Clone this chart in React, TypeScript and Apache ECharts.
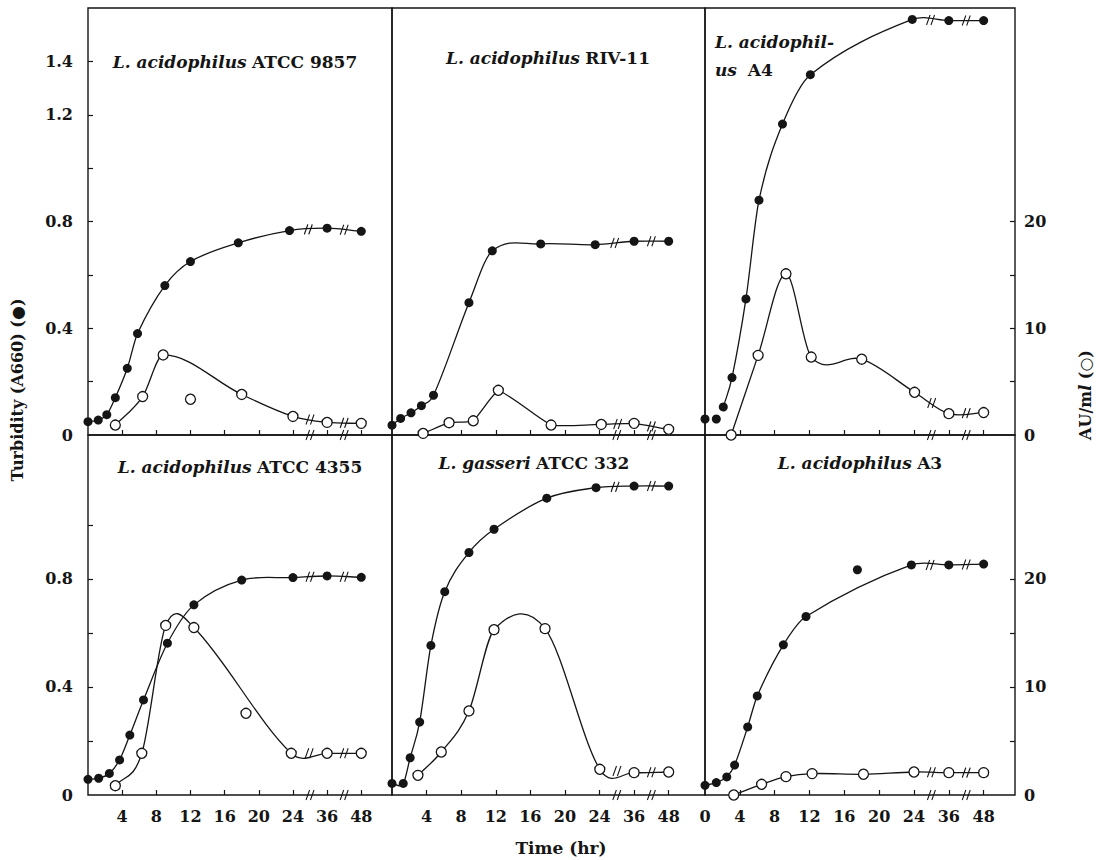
import React, { useEffect, useRef } from "react";
import * as echarts from "echarts";

// ---------- Data (hours, turbidity A660 for ●, AU/ml for ○) ----------
// Panel A: L. acidophilus ATCC 9857
const aFilledHours = [0, 1.2, 2.2, 3.2, 4.6, 5.8, 9, 12, 17.6, 23.6, 36, 48];
const aFilledTurb = [0.05, 0.056, 0.076, 0.14, 0.25, 0.38, 0.56, 0.65, 0.72, 0.766, 0.775, 0.763];
const aOpenHours = [3.2, 6.4, 8.8, 18, 24, 36, 48];
const aOpenAU = [0.93, 3.6, 7.5, 3.8, 1.74, 1.18, 1.09];
const aOpenOutHours = [12];
const aOpenOutAU = [3.35];

// Panel B: L. acidophilus RIV-11
const bFilledHours = [0, 1, 2.2, 3.4, 4.8, 8.9, 11.6, 17.2, 23.5, 36, 48];
const bFilledTurb = [0.037, 0.062, 0.083, 0.11, 0.149, 0.496, 0.69, 0.716, 0.713, 0.726, 0.726];
const bOpenHours = [3.6, 6.6, 9.4, 12.3, 18.4, 24.6, 36, 48];
const bOpenAU = [0.15, 1.15, 1.33, 4.19, 0.93, 0.99, 1.09, 0.53];

// Panel C: L. acidophilus A4
const cLooseHours = [0, 1.3];
const cLooseTurb = [0.06, 0.06];
const cFilledHours = [2.1, 3.1, 4.7, 6.2, 8.9, 12.1, 23.8, 36, 48];
const cFilledTurb = [0.105, 0.215, 0.51, 0.88, 1.165, 1.35, 1.557, 1.553, 1.553];
const cOpenHours = [3, 6.1, 9.3, 12.2, 18, 24.2, 36, 48];
const cOpenAU = [0, 7.46, 15.1, 7.3, 7.1, 4.0, 2.0, 2.1];

// Panel D: L. acidophilus ATCC 4355
const dFilledHours = [0, 1.25, 2.5, 3.7, 4.9, 6.5, 9.3, 12.4, 18, 24, 36, 48];
const dFilledTurb = [0.058, 0.062, 0.08, 0.13, 0.222, 0.352, 0.562, 0.704, 0.796, 0.805, 0.811, 0.806];
const dOpenHours = [3.2, 6.3, 9.1, 12.4, 23.8, 36, 48];
const dOpenAU = [0.86, 3.86, 15.7, 15.5, 3.86, 3.86, 3.86];
const dOpenOutHours = [18.5];
const dOpenOutAU = [7.56];

// Panel E: L. gasseri ATCC 332
const eFilledHours = [0, 1.3, 2.1, 3.2, 4.5, 6.1, 8.9, 11.8, 17.9, 23.6, 36, 48];
const eFilledTurb = [0.043, 0.043, 0.138, 0.27, 0.554, 0.753, 0.898, 0.984, 1.099, 1.138, 1.144, 1.144];
const eOpenHours = [3, 5.7, 8.9, 11.8, 17.7, 24.1, 36, 48];
const eOpenAU = [1.82, 3.98, 7.78, 15.3, 15.4, 2.38, 2.07, 2.13];

// Panel F: L. acidophilus A3
const fFilledHours = [0, 1.3, 2.5, 3.4, 4.9, 6, 9, 11.6, 23.7, 36, 48];
const fFilledTurb = [0.036, 0.046, 0.067, 0.111, 0.252, 0.367, 0.556, 0.661, 0.852, 0.852, 0.855];
const fFilledOutHours = [17.5];
const fFilledOutTurb = [0.834];
const fOpenHours = [3.3, 6.5, 9.3, 12.3, 18.2, 24, 36, 48];
const fOpenAU = [0, 0.99, 1.7, 1.98, 1.92, 2.13, 2.07, 2.07];

// Axis ticks / labels
const xTickHours = [4, 8, 12, 16, 20, 24, 36, 48];
const topTurbTicks = [0.2, 0.4, 0.6, 0.8, 1.0, 1.2, 1.4];
const topTurbLabels = [0, 0.4, 0.8, 1.2, 1.4];
const botTurbTicks = [0.2, 0.4, 0.6, 0.8, 1.0];
const botTurbLabels = [0, 0.4, 0.8];
const auTicks = [5, 10, 15, 20];
const auLabels = [0, 10, 20];
const AU_PER_TURB = 25;

// ---------- helpers ----------
// broken time axis: 0-24 h linear, then 36 h and 48 h each one 4-h step further
const toAxis = (h: number) => (h <= 24 ? h : 24 + (h - 24) / 3);
const fromAxis = (x: number) => (x <= 24 ? x : 24 + (x - 24) * 3);
const pairs = (hs: number[], vs: number[]) => hs.map((h, i) => [toAxis(h), vs[i]]);
const breaksOf = (hs: number[], vs: number[]) => {
  const n = hs.length;
  const out: number[][] = [];
  for (let i = n - 3; i < n - 1; i++) {
    out.push([(toAxis(hs[i]) + toAxis(hs[i + 1])) / 2, (vs[i] + vs[i + 1]) / 2]);
  }
  return out;
};

// smooth cubic Hermite curve through pixel points (monotone in x)
const curvePath = (pts: number[][], tension: number) => {
  const n = pts.length;
  if (n < 2) return "";
  const slopes = pts.map((_, i) => {
    const a = pts[Math.max(0, i - 1)];
    const b = pts[Math.min(n - 1, i + 1)];
    return (b[1] - a[1]) / (b[0] - a[0]);
  });
  let d = `M${pts[0][0]},${pts[0][1]}`;
  for (let i = 0; i < n - 1; i++) {
    const [x0, y0] = pts[i];
    const [x1, y1] = pts[i + 1];
    const seg = (y1 - y0) / (x1 - x0);
    const m0 = tension * slopes[i] + (1 - tension) * seg;
    const m1 = tension * slopes[i + 1] + (1 - tension) * seg;
    const dx = (x1 - x0) / 3;
    d += ` C${x0 + dx},${y0 + m0 * dx} ${x1 - dx},${y1 - m1 * dx} ${x1},${y1}`;
  }
  return d;
};

const SERIF = '"DejaVu Serif", "Liberation Serif", serif';
const INK = "#151515";

const colLeft = [88, 392, 705];
const colWidth = [304, 313, 310];
const rowTop = [8, 435];
const rowHeight = [427, 360];
const xMax = [35.6, 36.2, 35.6];
const turbMax = [1.6, 1.333];

type Panel = {
  filledH: number[];
  filledV: number[];
  openH: number[];
  openV: number[];
  looseH?: number[];
  looseV?: number[];
  openOutH?: number[];
  openOutV?: number[];
  tensionOpen?: number;
};

const panels: Panel[] = [
  { filledH: aFilledHours, filledV: aFilledTurb, openH: aOpenHours, openV: aOpenAU, openOutH: aOpenOutHours, openOutV: aOpenOutAU },
  { filledH: bFilledHours, filledV: bFilledTurb, openH: bOpenHours, openV: bOpenAU, tensionOpen: 0.3 },
  { filledH: cFilledHours, filledV: cFilledTurb, openH: cOpenHours, openV: cOpenAU, looseH: cLooseHours, looseV: cLooseTurb },
  { filledH: dFilledHours, filledV: dFilledTurb, openH: dOpenHours, openV: dOpenAU, openOutH: dOpenOutHours, openOutV: dOpenOutAU },
  { filledH: eFilledHours, filledV: eFilledTurb, openH: eOpenHours, openV: eOpenAU },
  { filledH: fFilledHours, filledV: fFilledTurb, openH: fOpenHours, openV: fOpenAU, looseH: fFilledOutHours, looseV: fFilledOutTurb },
];

const BREAK_SYMBOL = "path://M0,12L4,0M5,12L9,0";

function curveSeries(idx: number, yIdx: number, data: number[][], tension: number) {
  return {
    type: "custom",
    xAxisIndex: idx,
    yAxisIndex: yIdx,
    data,
    encode: { x: 0, y: 1 },
    z: 2,
    silent: true,
    renderItem: (params: any, api: any) => {
      if (params.dataIndex !== 0) return null;
      const pts = data.map((p) => api.coord(p));
      return {
        type: "path",
        shape: { pathData: curvePath(pts, tension) },
        style: { fill: "none", stroke: INK, lineWidth: 1.3 },
      };
    },
  };
}

function buildOption() {
  const grid: any[] = [];
  const xAxis: any[] = [];
  const yAxis: any[] = [];
  const series: any[] = [];
  const labelStyle = { fontFamily: SERIF, fontWeight: "bold", fontSize: 16, color: INK };
  const xTicks = xTickHours.map(toAxis);
  const axisBreaks = [0, 1].map((i) => (xTicks[xTicks.length - 3 + i] + xTicks[xTicks.length - 2 + i]) / 2);
  const filledMark = { color: INK, opacity: 1 };
  const openMark = { color: "#fff", borderColor: INK, borderWidth: 1.3, opacity: 1 };
  const breakStyle = { color: "rgba(0,0,0,0)", borderColor: INK, borderWidth: 1.2, opacity: 1 };

  for (let r = 0; r < 2; r++) {
    for (let c = 0; c < 3; c++) {
      const idx = r * 3 + c;
      const p = panels[idx];
      grid.push({
        left: colLeft[c],
        top: rowTop[r],
        width: colWidth[c],
        height: rowHeight[r],
        show: true,
        borderColor: INK,
        borderWidth: 1.4,
        backgroundColor: "transparent",
      });
      xAxis.push({
        type: "value",
        gridIndex: idx,
        min: 0,
        max: xMax[c],
        axisLine: { show: false },
        splitLine: { show: false },
        axisTick: { show: true, inside: true, length: 5, lineStyle: { color: INK, width: 1.2 }, customValues: xTicks },
        axisLabel: {
          show: r === 1,
          customValues: c === 2 ? [0, ...xTicks] : xTicks,
          formatter: (v: number) => String(Math.round(fromAxis(v))),
          margin: 13,
          ...labelStyle,
        },
      });
      yAxis.push({
        type: "value",
        gridIndex: idx,
        min: 0,
        max: turbMax[r],
        position: "left",
        axisLine: { show: false },
        splitLine: { show: false },
        axisTick: {
          show: c === 0,
          inside: true,
          length: 5,
          lineStyle: { color: INK, width: 1.2 },
          customValues: r === 0 ? topTurbTicks : botTurbTicks,
        },
        axisLabel: {
          show: c === 0,
          customValues: r === 0 ? topTurbLabels : botTurbLabels,
          formatter: (v: number) => (v === 0 ? "0" : v.toFixed(1)),
          margin: 15,
          ...labelStyle,
        },
      });
      yAxis.push({
        type: "value",
        gridIndex: idx,
        min: 0,
        max: turbMax[r] * AU_PER_TURB,
        position: "right",
        show: c === 2,
        axisLine: { show: false },
        splitLine: { show: false },
        axisTick: { show: true, inside: true, length: 5, lineStyle: { color: INK, width: 1.2 }, customValues: auTicks },
        axisLabel: { customValues: auLabels, formatter: (v: number) => String(v), margin: 9, ...labelStyle },
      });

      const filledData = pairs(p.filledH, p.filledV);
      const openData = pairs(p.openH, p.openV);

      // curves
      series.push(curveSeries(idx, idx * 2, filledData, 1));
      series.push(curveSeries(idx, idx * 2 + 1, openData, p.tensionOpen ?? 1));

      // filled circles: turbidity
      series.push({
        type: "scatter",
        xAxisIndex: idx,
        yAxisIndex: idx * 2,
        data: p.looseH && p.looseV ? [...filledData, ...pairs(p.looseH, p.looseV)] : filledData,
        symbol: "circle",
        symbolSize: 9,
        itemStyle: filledMark,
        z: 3,
      });
      // open circles: AU/ml
      series.push({
        type: "scatter",
        xAxisIndex: idx,
        yAxisIndex: idx * 2 + 1,
        data: p.openOutH && p.openOutV ? [...openData, ...pairs(p.openOutH, p.openOutV)] : openData,
        symbol: "circle",
        symbolSize: 10,
        itemStyle: openMark,
        z: 4,
      });
      // break marks "//" on axis and on the curves
      series.push({
        type: "scatter",
        xAxisIndex: idx,
        yAxisIndex: idx * 2,
        data: [...axisBreaks.map((x) => [x, 0]), ...breaksOf(p.filledH, p.filledV)],
        symbol: BREAK_SYMBOL,
        symbolSize: [8, 10],
        itemStyle: breakStyle,
        z: 5,
      });
      series.push({
        type: "scatter",
        xAxisIndex: idx,
        yAxisIndex: idx * 2 + 1,
        data: breaksOf(p.openH, p.openV),
        symbol: BREAK_SYMBOL,
        symbolSize: [8, 10],
        itemStyle: breakStyle,
        z: 5,
      });
    }
  }

  const rich = {
    i: { fontFamily: SERIF, fontStyle: "italic", fontWeight: "bold", fontSize: 17, fill: INK },
    b: { fontFamily: SERIF, fontWeight: "bold", fontSize: 17, fill: INK },
  };
  const title = (x: number, y: number, text: string, align = "center") => ({
    type: "text",
    x,
    y,
    z: 10,
    style: { text, rich, align, verticalAlign: "middle", fontFamily: SERIF, fontSize: 17, fill: INK },
  });

  const graphic = [
    title(235, 62, "{i|L. acidophilus} {b|ATCC 9857}"),
    title(548, 58, "{i|L. acidophilus} {b|RIV-11}"),
    title(715, 42, "{i|L. acidophil-}", "left"),
    title(715, 70, "{i|us}  {b|A4}", "left"),
    title(240, 467, "{i|L. acidophilus} {b|ATCC 4355}"),
    title(534, 463, "{i|L. gasseri} {b|ATCC 332}"),
    title(860, 463, "{i|L. acidophilus} {b|A3}"),
    {
      type: "text",
      x: 17,
      y: 390,
      rotation: Math.PI / 2,
      style: {
        text: "Turbidity (A660) (●)",
        align: "center",
        verticalAlign: "middle",
        fontFamily: SERIF,
        fontWeight: "bold",
        fontSize: 16,
        fill: INK,
      },
    },
    {
      type: "text",
      x: 1085,
      y: 395,
      rotation: Math.PI / 2,
      style: {
        text: "{a|AU/m}{l|l}{a| (○)}",
        rich: {
          a: { fontFamily: SERIF, fontWeight: "bold", fontSize: 16, fill: INK },
          l: { fontFamily: SERIF, fontWeight: "bold", fontStyle: "italic", fontSize: 16, fill: INK },
        },
        align: "center",
        verticalAlign: "middle",
        fontFamily: SERIF,
        fontSize: 16,
        fill: INK,
      },
    },
    {
      type: "text",
      x: 561,
      y: 848,
      style: {
        text: "Time (hr)",
        align: "center",
        verticalAlign: "middle",
        fontFamily: SERIF,
        fontWeight: "bold",
        fontSize: 17,
        fill: INK,
      },
    },
  ];

  return {
    animation: false,
    backgroundColor: "#fff",
    grid,
    xAxis,
    yAxis,
    series,
    graphic,
  };
}

export default function App() {
  const ref = useRef<HTMLDivElement>(null);
  useEffect(() => {
    if (!ref.current) return;
    const chart = echarts.init(ref.current, undefined, { renderer: "svg" });
    chart.setOption(buildOption() as any);
    return () => chart.dispose();
  }, []);
  return (
    <div
      ref={ref}
      style={{ position: "fixed", left: 0, top: 0, width: 1100, height: 860, background: "#fff" }}
    />
  );
}
